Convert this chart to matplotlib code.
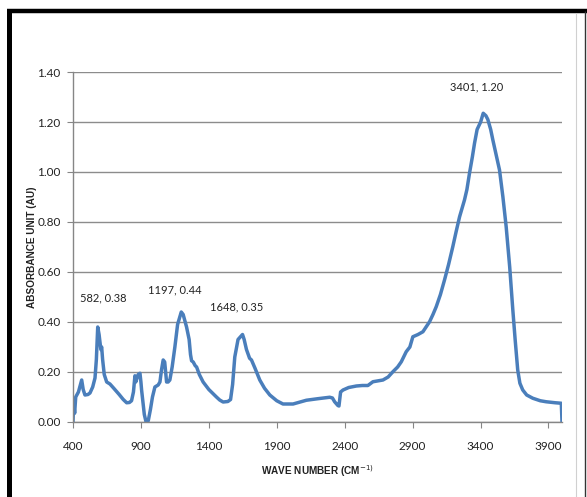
import matplotlib
matplotlib.use("Agg")
import matplotlib.pyplot as plt
from matplotlib.lines import Line2D

# FTIR spectrum: wavenumber (cm^-1) vs absorbance (AU)
wavenumber = [
    400, 405, 412, 420, 440, 464, 475, 488, 510, 525, 545, 562, 572, 582, 592,
    605, 611, 618, 630, 648, 672, 700, 740, 770, 795, 815, 831, 845, 856, 862,
    868, 880, 893, 900, 905, 915, 925, 937, 954, 970, 985, 1003, 1027, 1040,
    1052, 1064, 1075, 1089, 1100, 1113, 1130, 1150, 1170, 1197, 1211, 1236,
    1255, 1265, 1273, 1285, 1300, 1310, 1330, 1358, 1400, 1456, 1480, 1505,
    1540, 1560, 1575, 1591, 1615, 1648, 1660, 1677, 1700, 1714, 1740, 1775,
    1810, 1849, 1900, 1946, 2020, 2060, 2118, 2200, 2290, 2310, 2326, 2350,
    2358, 2370, 2388, 2430, 2486, 2530, 2571, 2608, 2682, 2720, 2755, 2790,
    2817, 2853, 2880, 2902, 2940, 2976, 3025, 3050, 3074, 3105, 3135, 3165,
    3196, 3220, 3246, 3282, 3300, 3319, 3340, 3356, 3375, 3401, 3420, 3440,
    3454, 3475, 3491, 3515, 3540, 3565, 3589, 3615, 3638, 3655, 3674, 3690,
    3711, 3740, 3785, 3840, 3883, 3950, 3995, 4000,
]
absorbance = [
    0.00, 0.08, 0.035, 0.10, 0.12, 0.168, 0.13, 0.108, 0.11, 0.116, 0.14,
    0.176, 0.25, 0.38, 0.35, 0.29, 0.30, 0.25, 0.19, 0.16, 0.152, 0.135, 0.11,
    0.09, 0.077, 0.078, 0.085, 0.12, 0.185, 0.16, 0.17, 0.19, 0.195, 0.16,
    0.128, 0.08, 0.03, 0.002, 0.005, 0.05, 0.10, 0.14, 0.148, 0.16, 0.21,
    0.248, 0.24, 0.16, 0.16, 0.168, 0.22, 0.30, 0.39, 0.44, 0.43, 0.38, 0.33,
    0.27, 0.245, 0.24, 0.225, 0.22, 0.19, 0.16, 0.13, 0.10, 0.088, 0.08,
    0.082, 0.09, 0.15, 0.26, 0.33, 0.35, 0.33, 0.29, 0.255, 0.248, 0.215,
    0.168, 0.135, 0.108, 0.085, 0.072, 0.072, 0.078, 0.087, 0.093, 0.099,
    0.096, 0.081, 0.066, 0.064, 0.12, 0.128, 0.138, 0.144, 0.146, 0.146,
    0.161, 0.168, 0.18, 0.201, 0.22, 0.241, 0.281, 0.30, 0.341, 0.35, 0.361,
    0.401, 0.43, 0.461, 0.51, 0.568, 0.63, 0.701, 0.76, 0.821, 0.888, 0.93,
    0.995, 1.06, 1.115, 1.17, 1.20, 1.235, 1.225, 1.21, 1.17, 1.128, 1.07,
    1.008, 0.90, 0.781, 0.62, 0.448, 0.33, 0.208, 0.155, 0.128, 0.108, 0.095,
    0.085, 0.081, 0.077, 0.075, 0.00,
]

# Labelled peaks (wavenumber, absorbance)
peak_x = [582, 1197, 1648, 3401]
peak_y = [0.38, 0.44, 0.35, 1.20]

x_ticks = [400, 900, 1400, 1900, 2400, 2900, 3400, 3900]
y_ticks = [0.00, 0.20, 0.40, 0.60, 0.80, 1.00, 1.20, 1.40]

plt.rcParams["font.family"] = ["Lato", "DejaVu Sans"]

W, H = 587, 497
fig = plt.figure(figsize=(W / 100, H / 100), dpi=100)
ax = fig.add_axes([73 / W, 1 - 422 / H, (562 - 73) / W, (422 - 72) / H])

line_color = "#4A7EBB"
ax.plot(wavenumber, absorbance, color=line_color, lw=2.5, solid_joinstyle="round")

ax.set_xlim(400, 4000)
ax.set_ylim(0, 1.40)
ax.set_xticks(x_ticks)
ax.set_yticks(y_ticks)
ax.set_yticklabels([f"{v:.2f}" for v in y_ticks])
ax.tick_params(axis="both", direction="out", length=4, width=0.8,
               color="#868686", labelsize=8.5, labelcolor="#222222")
ax.tick_params(axis="x", pad=10)
ax.tick_params(axis="y", pad=5)

ax.grid(axis="y", color="#8C8C8C", lw=1.0)
ax.set_axisbelow(True)
for side in ("top", "right"):
    ax.spines[side].set_visible(False)
for side in ("left", "bottom"):
    ax.spines[side].set_color("#868686")
    ax.spines[side].set_linewidth(1.0)

# Peak annotations
offsets = {582: (4, 17), 1197: (-5, 12), 1648: (-4, 16), 3401: (-3, 21)}
for px, py in zip(peak_x, peak_y):
    dx, dy = offsets[px]
    ax.annotate(f"{px}, {py:.2f}", xy=(px, py), xytext=(dx, dy),
                textcoords="offset points", ha="center", va="bottom",
                fontsize=8, color="#222222")

label_font = dict(family=["Liberation Sans", "DejaVu Sans"], size=7.2,
                  weight="bold")
ax.set_xlabel("WAVE NUMBER (CM$^{-1)}$", fontdict=label_font,
              labelpad=8, color="#222222")
ax.set_ylabel("ABSORBANCE UNIT (AU)", fontdict=label_font,
              labelpad=0, color="#222222")


def fig_line(x0, y0, x1, y1, color, lw):
    """Draw a line in figure pixel coordinates (origin at top-left)."""
    fig.add_artist(Line2D([x0 / W, x1 / W], [1 - y0 / H, 1 - y1 / H],
                          transform=fig.transFigure, color=color, lw=lw,
                          solid_capstyle="butt"))


# Page frame around the chart
fig_line(8.5, 11, 8.5, H, "black", 3.6)
fig_line(6.5, 11, W, 11, "black", 3.2)
fig_line(584.5, 11, 584.5, H, "#333333", 1.0)
fig_line(576, 13, 576, H, "#D0D0D0", 0.8)

fig.savefig("out.png", dpi=100, facecolor="white")
